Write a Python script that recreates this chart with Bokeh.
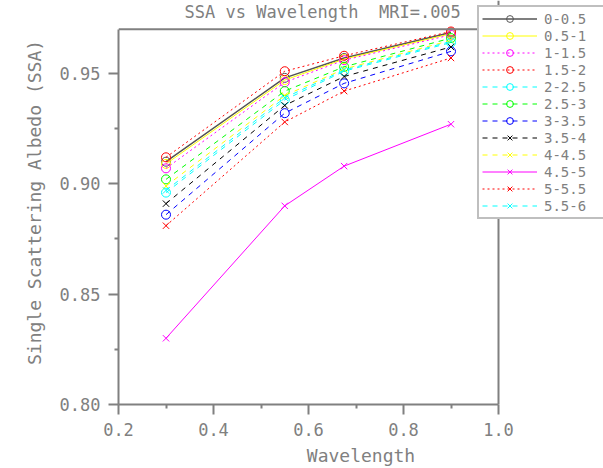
from bokeh.plotting import figure
from bokeh.models import (Legend, LegendItem, Range1d, NumeralTickFormatter,
                          FixedTicker, Span, Label)
from bokeh.embed import file_html
from bokeh.resources import INLINE

wavelength = [0.3, 0.55, 0.675, 0.9]
bins = ["0-0.5", "0.5-1", "1-1.5", "1.5-2", "2-2.5", "2.5-3", "3-3.5",
        "3.5-4", "4-4.5", "4.5-5", "5-5.5", "5.5-6"]
ssa_0_05 = [0.910, 0.948, 0.957, 0.9685]
ssa_05_1 = [0.909, 0.947, 0.9565, 0.968]
ssa_1_15 = [0.907, 0.946, 0.956, 0.9675]
ssa_15_2 = [0.912, 0.951, 0.958, 0.969]
ssa_2_25 = [0.896, 0.938, 0.951, 0.964]
ssa_25_3 = [0.902, 0.942, 0.953, 0.966]
ssa_3_35 = [0.886, 0.932, 0.9455, 0.960]
ssa_35_4 = [0.891, 0.9355, 0.9486, 0.962]
ssa_4_45 = [0.899, 0.940, 0.952, 0.965]
ssa_45_5 = [0.830, 0.890, 0.908, 0.927]
ssa_5_55 = [0.881, 0.928, 0.942, 0.957]
ssa_55_6 = [0.897, 0.939, 0.9515, 0.9645]
series = [ssa_0_05, ssa_05_1, ssa_1_15, ssa_15_2, ssa_2_25, ssa_25_3, ssa_3_35,
          ssa_35_4, ssa_4_45, ssa_45_5, ssa_5_55, ssa_55_6]

x_ticks = [0.2, 0.4, 0.6, 0.8, 1.0]
y_ticks = [0.80, 0.85, 0.90, 0.95]
X_MIN, X_MAX = 0.2, 1.0
Y_MIN, Y_MAX = 0.80, 0.97

colors = ["#555555", "#FFFF00", "#FF00FF", "#FF0000", "#00FFFF", "#00FF00", "#0000FF",
          "#000000", "#FFFF00", "#FF00FF", "#FF0000", "#00FFFF"]
dashes = ["solid", "solid", "2 3", "2 3", "5 5", "5 5", "5 5",
          "5 5", "5 5", "solid", "2 3", "5 5"]
markers = ["circle"] * 7 + ["x"] * 5

GRAY = "#808080"
FONT = "DejaVu Sans Mono"

W, H = 603, 468
LEFT, BOTTOM = 118, 61
AX_W, AX_H = 380, 378          # pixel size of the axes box (0.2..1.0, 0.80..0.97)
frame_w, frame_h = W - LEFT, H - BOTTOM
x_end = X_MIN + (X_MAX - X_MIN) * frame_w / AX_W
y_end = Y_MIN + (Y_MAX - Y_MIN) * frame_h / AX_H

p = figure(width=W, height=H, output_backend="svg", toolbar_location=None,
           x_range=Range1d(X_MIN, x_end), y_range=Range1d(Y_MIN, y_end),
           min_border_left=LEFT, min_border_right=0, min_border_top=0,
           min_border_bottom=BOTTOM, background_fill_color="white")
p.xgrid.visible = False
p.ygrid.visible = False
p.outline_line_color = None

for ax in (p.xaxis[0], p.yaxis[0]):
    ax.axis_line_color = GRAY
    ax.axis_line_width = 2
    ax.major_tick_line_color = GRAY
    ax.minor_tick_line_color = GRAY
    ax.major_tick_line_width = 2
    ax.minor_tick_line_width = 2
    ax.major_tick_out = 10
    ax.major_tick_in = 0
    ax.minor_tick_out = 4
    ax.minor_tick_in = 0
    ax.major_label_text_font = FONT
    ax.major_label_text_font_size = "17px"
    ax.major_label_text_color = GRAY
    ax.axis_label_text_font = FONT
    ax.axis_label_text_font_size = "18px"
    ax.axis_label_text_color = GRAY
    ax.axis_label_text_font_style = "normal"

p.xaxis.bounds = (X_MIN, X_MAX)
p.yaxis.bounds = (Y_MIN, Y_MAX)
p.xaxis.ticker = FixedTicker(ticks=x_ticks, minor_ticks=[0.3, 0.5, 0.7, 0.9])
p.yaxis.ticker = FixedTicker(ticks=y_ticks, minor_ticks=[0.825, 0.875, 0.925])
p.xaxis.formatter = NumeralTickFormatter(format="0.0")
p.yaxis.formatter = NumeralTickFormatter(format="0.00")
p.xaxis.axis_label = "Wavelength"
p.yaxis.axis_label = "Single Scattering Albedo (SSA)"
p.xaxis.major_label_standoff = 8
p.xaxis.axis_label_standoff = 6
p.yaxis.major_label_standoff = 8
p.yaxis.axis_label_standoff = 12

# box lines (top and right) of the axes
p.add_layout(Span(location=Y_MAX, dimension="width", line_color=GRAY, line_width=2))
p.add_layout(Span(location=X_MAX, dimension="height", line_color=GRAY, line_width=2))

# title
p.add_layout(Label(x=X_MIN, y=Y_MAX, x_offset=66, y_offset=17,
                   text="SSA vs Wavelength\u00a0 MRI=.005", text_font=FONT,
                   text_font_size="17px", text_color=GRAY, text_baseline="middle",
                   text_align="left"))

items = []
for name, vals, c, d, m in zip(bins, series, colors, dashes, markers):
    lw = 1.5 if name == "0-0.5" else 1
    r1 = p.line(wavelength, vals, line_color=c, line_dash=d, line_width=lw)
    r2 = p.scatter(wavelength, vals, marker=m, size=9, line_color=c,
                   fill_color=None, line_width=1)
    items.append(LegendItem(label=name, renderers=[r1, r2]))

legend = Legend(items=items, location=(AX_W - 21, frame_h - 8 - 214),
                orientation="vertical",
                glyph_width=55, glyph_height=17, label_height=17, spacing=0,
                padding=3, margin=0, label_standoff=7, label_width=70,
                label_text_font=FONT, label_text_font_size="14px",
                label_text_color=GRAY, border_line_color=GRAY,
                border_line_width=2, background_fill_color="white",
                background_fill_alpha=1.0)
p.add_layout(legend, "center")

open("out.html", "w").write(file_html(p, INLINE))
